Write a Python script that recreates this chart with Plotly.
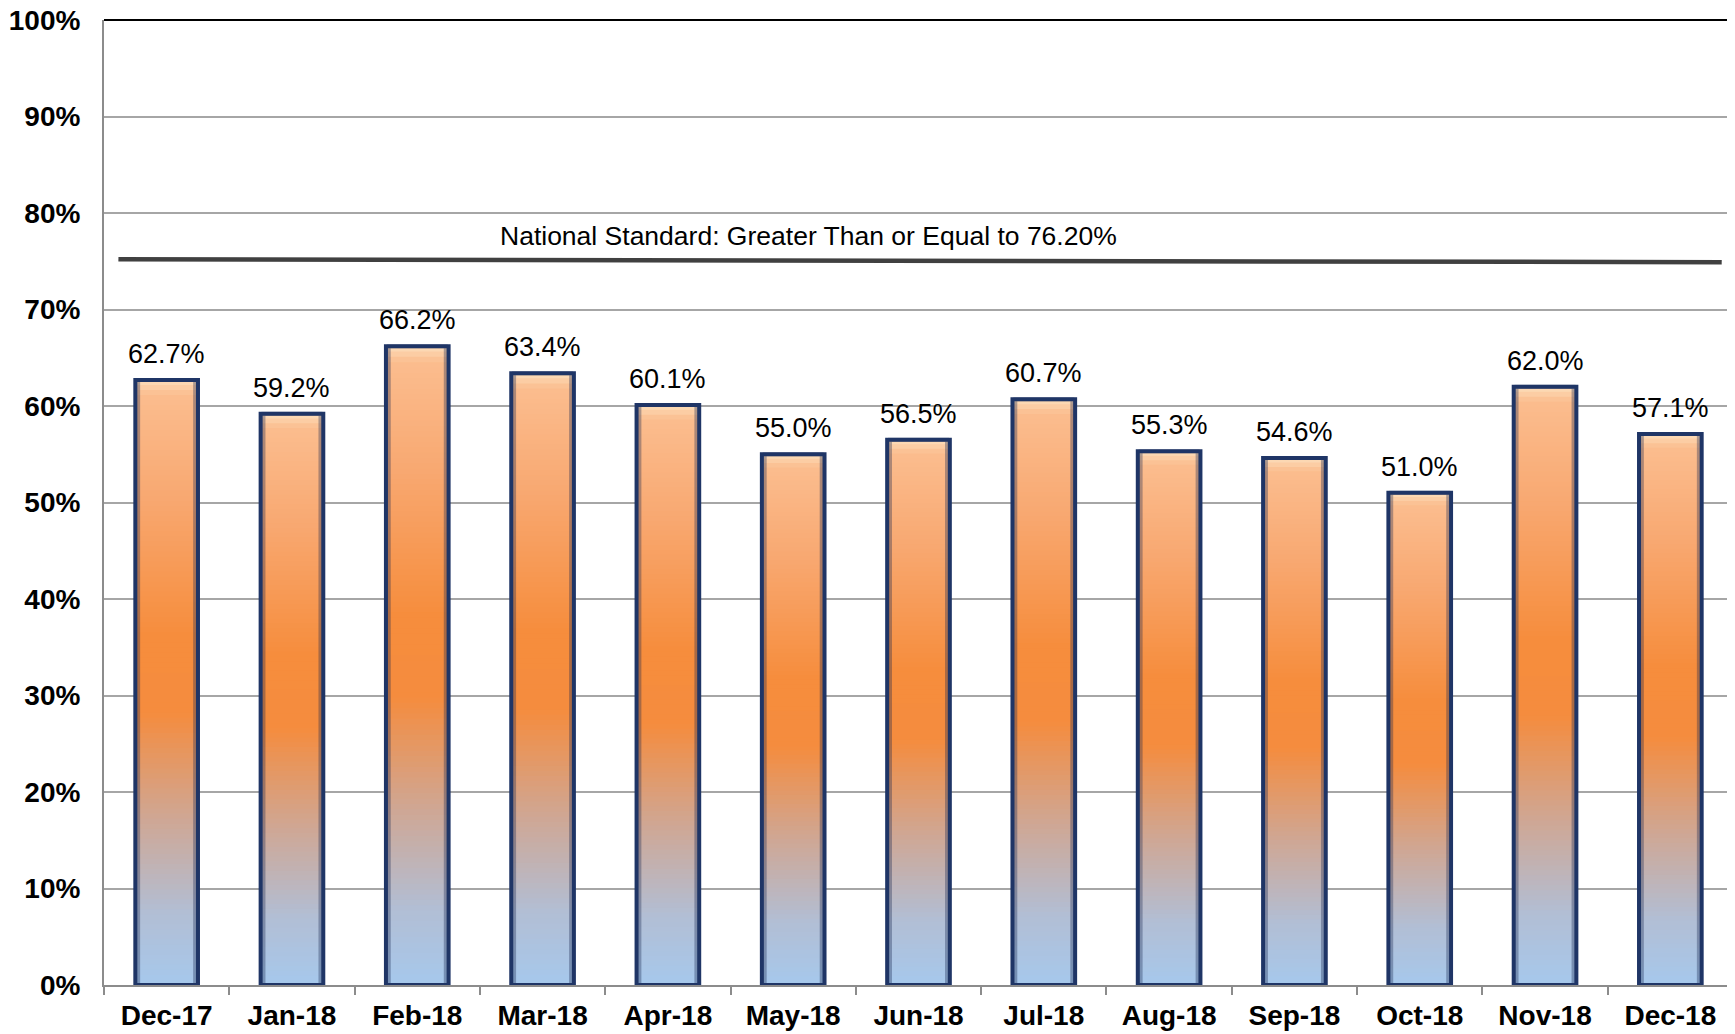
import plotly.graph_objects as go

months = ["Dec-17", "Jan-18", "Feb-18", "Mar-18", "Apr-18", "May-18", "Jun-18",
          "Jul-18", "Aug-18", "Sep-18", "Oct-18", "Nov-18", "Dec-18"]
values = [62.7, 59.2, 66.2, 63.4, 60.1, 55.0, 56.5, 60.7, 55.3, 54.6, 51.0, 62.0, 57.1]
value_labels = ["62.7%", "59.2%", "66.2%", "63.4%", "60.1%", "55.0%", "56.5%",
                "60.7%", "55.3%", "54.6%", "51.0%", "62.0%", "57.1%"]
standard_text = "National Standard: Greater Than or Equal to 76.20%"
standard_line = [75.2, 74.9]   # drawn position of the standard line (left, right)
y_ticks = [0, 10, 20, 30, 40, 50, 60, 70, 80, 90, 100]
y_tick_labels = ["0%", "10%", "20%", "30%", "40%", "50%", "60%", "70%", "80%", "90%", "100%"]

FONT = "Liberation Sans, Arial, sans-serif"

# gradient stops: fraction of bar height from bottom -> colour
stops = [(0.0, (166, 200, 236)), (0.12, (178, 190, 212)), (0.28, (208, 166, 146)),
         (0.45, (245, 140, 62)), (0.58, (246, 141, 61)), (0.8, (248, 168, 112)),
         (0.975, (251, 188, 142)), (1.0, (252, 222, 186))]

def color_at(f):
    for (f0, c0), (f1, c1) in zip(stops[:-1], stops[1:]):
        if f0 <= f <= f1:
            t = (f - f0) / (f1 - f0) if f1 > f0 else 0
            c = [round(a + (b - a) * t) for a, b in zip(c0, c1)]
            return "rgb(%d,%d,%d)" % tuple(c)
    return "rgb(%d,%d,%d)" % stops[-1][1]

fig = go.Figure()
K = 120
W = 0.5
for k in range(K):
    f = (k + 0.5) / K
    col = color_at(f)
    span = 2 if k < K - 1 else 1
    fig.add_trace(go.Bar(
        x=months, y=[v * span / K for v in values], base=[v * k / K for v in values],
        width=W, marker=dict(color=col, line=dict(width=0)),
        hoverinfo="skip", showlegend=False))

# inner bevel shading
fig.add_trace(go.Bar(
    x=months, y=values, width=W - 0.045,
    marker=dict(color="rgba(0,0,0,0)", line=dict(color="rgba(25,40,80,0.35)", width=4)),
    hoverinfo="skip", showlegend=False))

# outline bar
fig.add_trace(go.Bar(
    x=months, y=values, width=W,
    marker=dict(color="rgba(0,0,0,0)", line=dict(color="#1f3566", width=4)),
    hoverinfo="skip", showlegend=False))

# value labels
for m, v, lab in zip(months, values, value_labels):
    fig.add_annotation(x=m, y=v, text=lab, showarrow=False, yanchor="bottom",
                       yshift=9, font=dict(family=FONT, size=27, color="black"))

# page body has an 8px margin: compensate so the plot area lands where the reference has it
fig.update_layout(
    barmode="overlay",
    width=1727, height=1026,
    margin=dict(l=96, r=2, t=12, b=49),
    plot_bgcolor="white", paper_bgcolor="white",
    font=dict(family=FONT, color="black"),
)
fig.update_xaxes(
    type="category", range=[-0.5, 12.5], showgrid=False, automargin=False,
    showline=True, linecolor="#8c8c8c", linewidth=2,
    ticks="outside", tickson="boundaries", ticklen=8, tickcolor="#8c8c8c", tickwidth=1.5,
    ticklabelstandoff=4,
    tickfont=dict(family=FONT, size=28, color="black", weight="bold"),
)
fig.update_yaxes(
    range=[0, 100], tickmode="array", tickvals=y_ticks, ticktext=y_tick_labels,
    automargin=False, ticklabeloverflow="allow",
    showgrid=True, gridcolor="#a6a6a6", gridwidth=1.5,
    showline=True, linecolor="#8c8c8c", linewidth=2, zeroline=False,
    ticks="", ticklabelstandoff=16,
    tickfont=dict(family=FONT, size=28, color="black", weight="bold"),
)
# frame: top and right borders
fig.add_shape(type="line", xref="paper", yref="paper", x0=0, x1=1, y0=1, y1=1,
              line=dict(color="black", width=2))
fig.add_shape(type="line", xref="paper", yref="paper", x0=1, x1=1, y0=0, y1=1,
              line=dict(color="#222222", width=2))
# national standard line
fig.add_shape(type="line", xref="x", yref="y", x0=-0.385, x1=12.41,
              y0=standard_line[0], y1=standard_line[1],
              line=dict(color="#404040", width=4.5))
fig.add_annotation(text=standard_text, xref="paper", yref="y", x=0.4327, y=77.6,
                   showarrow=False, font=dict(family=FONT, size=26.5, color="black"))

fig.write_html("out.html")
